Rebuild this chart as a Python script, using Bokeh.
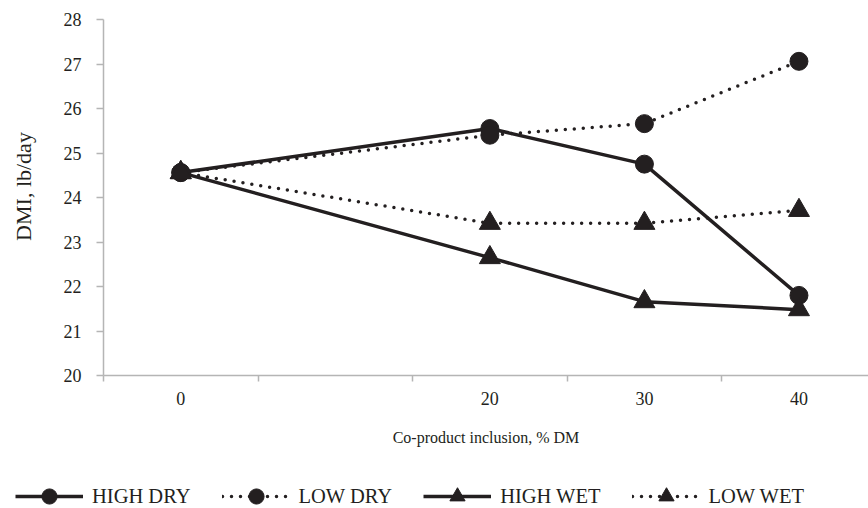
from bokeh.plotting import figure
from bokeh.models import Range1d, FixedTicker, Legend, LegendItem
from bokeh.layouts import column
from bokeh.embed import file_html
from bokeh.resources import INLINE

# ---- data ----
categories = ["0", "", "20", "30", "40"]          # x categories (2nd one unlabeled)
inclusion = ["0", "20", "30", "40"]                # measured inclusion levels, % DM
high_dry = [24.56, 25.55, 24.75, 21.80]
low_dry = [24.56, 25.40, 25.66, 27.06]
high_wet = [24.56, 22.65, 21.66, 21.48]
low_wet = [24.56, 23.42, 23.42, 23.71]
y_ticks = [20, 21, 22, 23, 24, 25, 26, 27, 28]

FONT = "Liberation Serif"
INK = "#231f20"
AXIS = "#b5b5b5"

xs = [categories.index(c) + 0.5 for c in inclusion]

p = figure(width=868, height=460, output_backend="svg", toolbar_location=None,
           x_range=Range1d(0, 4.95), y_range=Range1d(20, 28),
           min_border_left=103, min_border_top=19, min_border_right=0,
           min_border_bottom=85, frame_align=False)
p.outline_line_color = None
p.grid.visible = False

# x axis: labels at category centres, tick marks at category boundaries
centers = [i + 0.5 for i, c in enumerate(categories)]
p.xaxis.ticker = FixedTicker(ticks=centers, minor_ticks=list(range(len(categories) + 1)))
p.xaxis.major_label_overrides = {i + 0.5: c for i, c in enumerate(categories)}
p.xaxis.major_tick_out = 0
p.xaxis.major_tick_in = 0
p.xaxis.minor_tick_out = 6
p.xaxis.minor_tick_in = 0
p.xaxis.minor_tick_line_color = AXIS
p.xaxis.minor_tick_line_width = 1.5
p.xaxis.axis_line_color = AXIS
p.xaxis.axis_line_width = 1.5
p.xaxis.major_label_standoff = 10
p.xaxis.axis_label = "Co-product inclusion, % DM"
p.xaxis.axis_label_standoff = 21
p.xaxis.axis_label_text_font_size = "16px"

p.yaxis.ticker = FixedTicker(ticks=y_ticks, minor_ticks=[])
p.yaxis.major_tick_out = 7
p.yaxis.major_tick_in = 0
p.yaxis.major_tick_line_color = AXIS
p.yaxis.major_tick_line_width = 1.5
p.yaxis.axis_line_color = AXIS
p.yaxis.axis_line_width = 1.5
p.yaxis.major_label_standoff = 15
p.yaxis.axis_label = "\u2002\u2002DMI, lb/day"
p.yaxis.axis_label_standoff = 25
p.yaxis.axis_label_text_font_size = "22px"

for ax in (p.xaxis, p.yaxis):
    ax.major_label_text_font = FONT
    ax.major_label_text_font_size = "18px"
    ax.major_label_text_color = INK
    ax.axis_label_text_font = FONT
    ax.axis_label_text_font_style = "normal"
    ax.axis_label_text_color = INK

series = [
    ("HIGH DRY", high_dry, "solid", "circle", 18),
    ("LOW DRY", low_dry, "dotted", "circle", 18),
    ("HIGH WET", high_wet, "solid", "triangle", 21),
    ("LOW WET", low_wet, "dotted", "triangle", 21),
]

# legend lives in its own strip below the chart (its glyphs are off-range)
leg = figure(width=868, height=48, output_backend="svg", toolbar_location=None,
             x_range=Range1d(-10, -9), y_range=Range1d(-10, -9),
             x_axis_location=None, y_axis_location=None, min_border=0,
             frame_align=False)
leg.outline_line_color = None
leg.grid.visible = False


def draw(fig, xv, yv, style, marker, size):
    if style == "solid":
        ln = fig.line(xv, yv, line_color=INK, line_width=3.5, line_join="round")
    else:
        ln = fig.line(xv, yv, line_color=INK, line_width=3.5, line_dash="0 9",
                      line_cap="round", line_join="round")
    mk = fig.scatter(xv, yv, marker=marker, size=size, fill_color=INK, line_color=INK)
    return ln, mk


items = []
for name, ys, style, marker, size in series:
    draw(p, xs, ys, style, marker, size)
    ln, mk = draw(leg, xs, ys, style, marker, size)
    items.append(LegendItem(label=name, renderers=[ln, mk]))

legend = Legend(items=items, orientation="horizontal", location=(15, -7),
                glyph_width=68, glyph_height=38, label_height=38,
                label_standoff=9, spacing=31,
                padding=0, margin=0, border_line_color=None,
                background_fill_alpha=0,
                label_text_font=FONT, label_text_font_size="20.5px",
                label_text_color=INK)
leg.add_layout(legend, "center")

open("out.html", "w").write(file_html(column(p, leg), INLINE))
